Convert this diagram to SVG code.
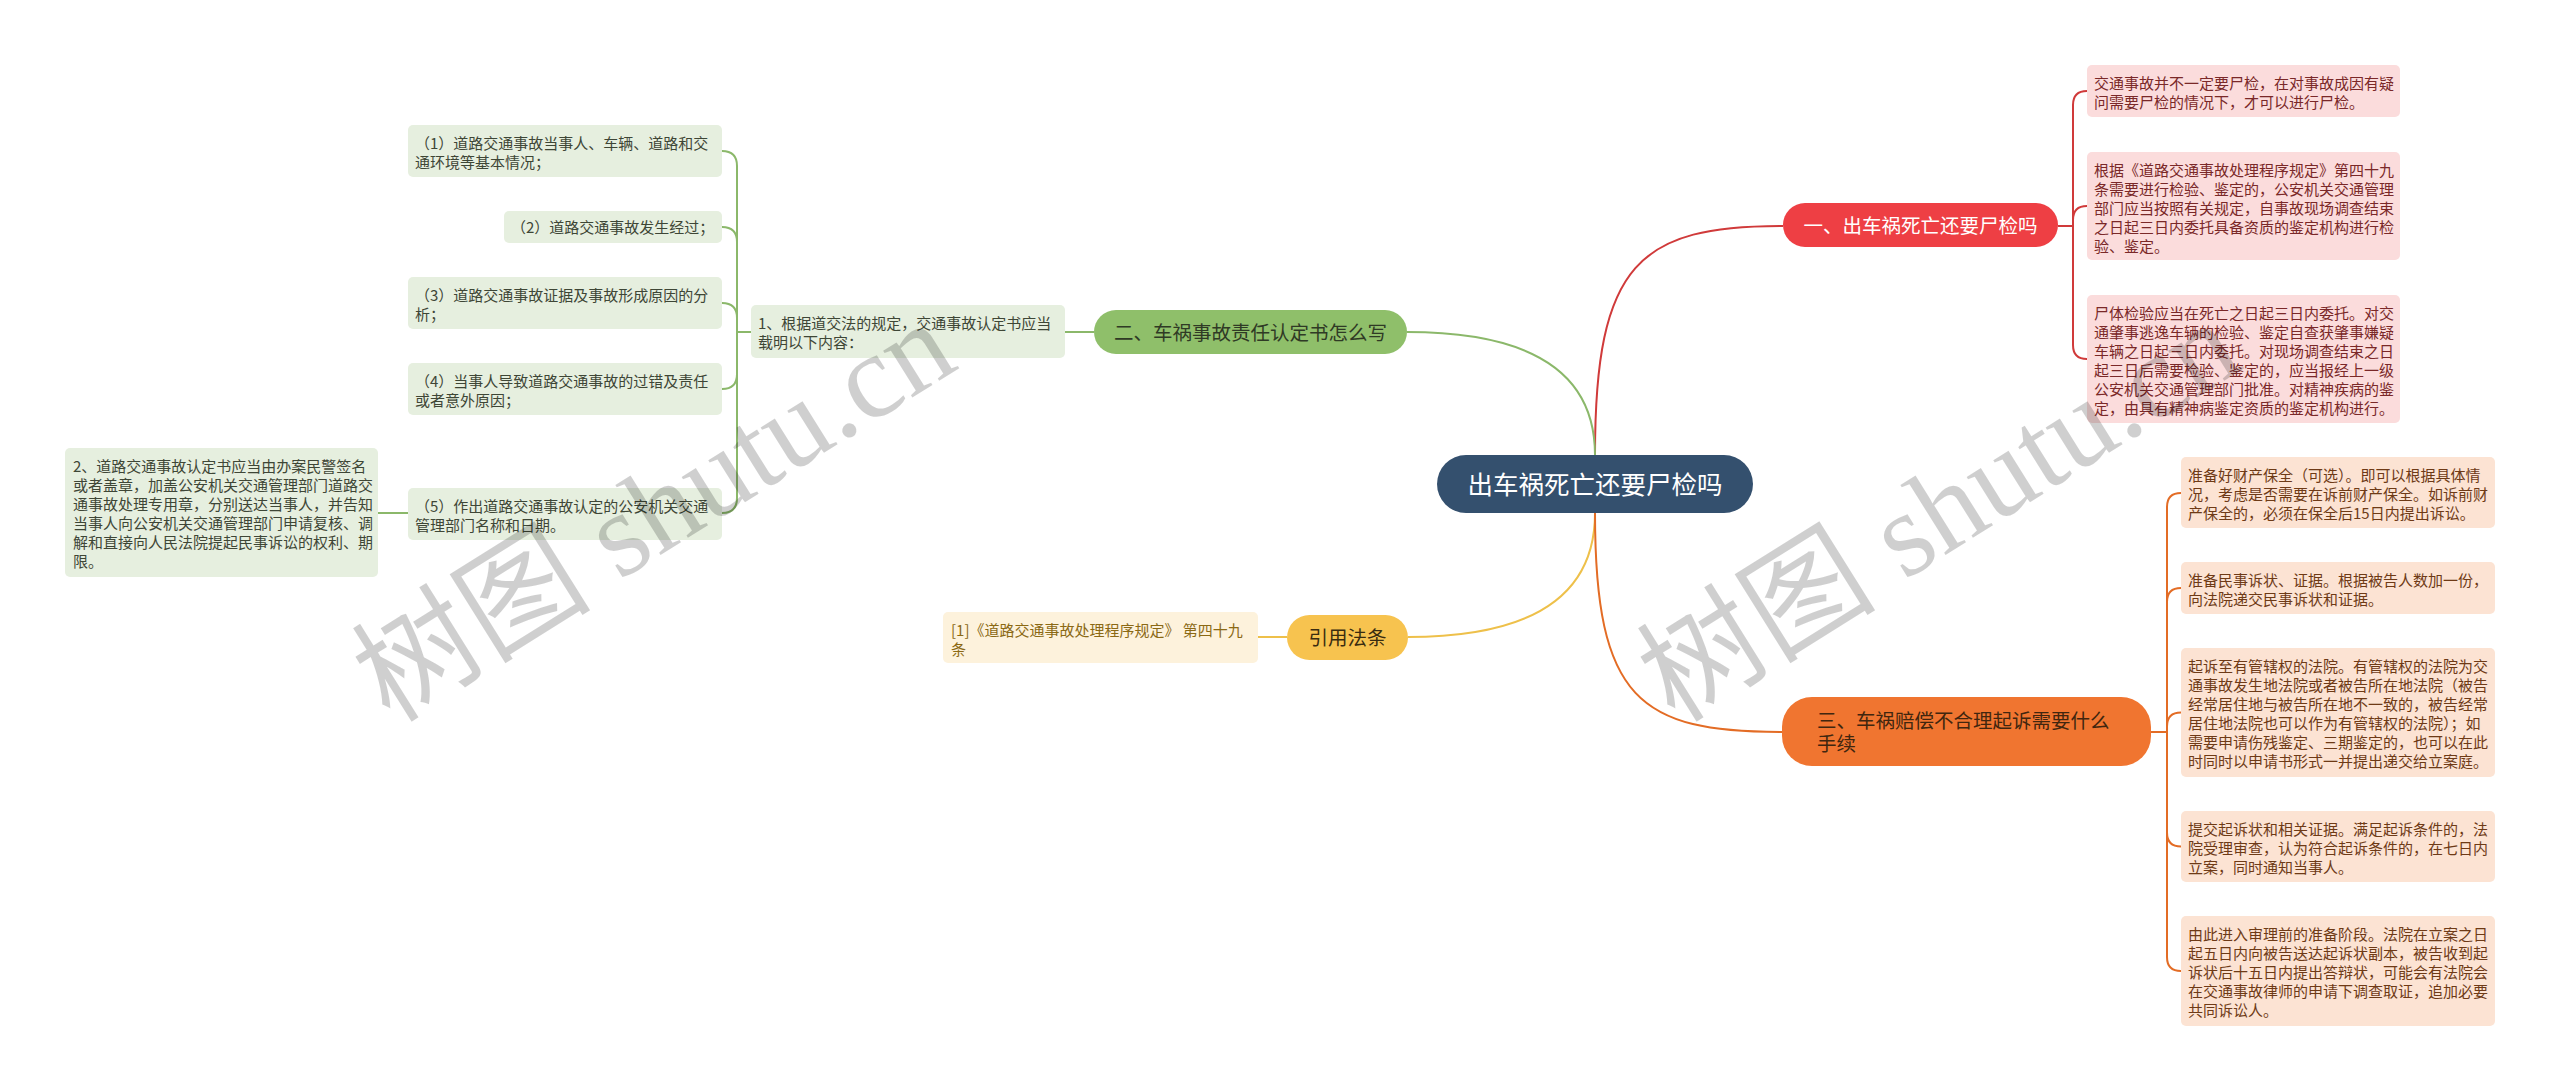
<svg xmlns="http://www.w3.org/2000/svg" width="2560" height="1091" viewBox="0 0 2560 1091">
<style>
text{font-family:'Noto Sans CJK SC','Noto Sans',sans-serif}
.t{font-size:15px}
.br{font-size:19.5px}
.red rect{fill:#fbdcdc}.red text{fill:#7a2828}
.org rect{fill:#fce3d3}.org text{fill:#6e3a16}
.grn rect{fill:#e6efdf}.grn text{fill:#3e4636}
.yel rect{fill:#fdf2dc}.yel text{fill:#8b6914}
.c{fill:none;stroke-width:2}
.cr{stroke:#d03a3a}.cg{stroke:#8bb86a}.cy{stroke:#eec04a}.co{stroke:#e36c25}
.wm{font-family:'Liberation Serif','Noto Sans CJK SC',serif;font-size:120px;fill:#000;fill-opacity:0.19}
</style>
<rect width="2560" height="1091" fill="#fff"/>
<g id="connectors">
<path class="c cr" stroke-width="2.5" d="M1595,455 C1595,262 1640,226 1783,226"/>
<path class="c cg" stroke-width="2.5" d="M1595,455 Q1595,332 1407,332"/>
<path class="c cy" stroke-width="2.5" d="M1595,513 Q1595,637 1408,637"/>
<path class="c co" stroke-width="2.5" d="M1595,513 C1595,700 1640,732 1782,732"/>
<path class="c cr" d="M2058,226 H2073 M2073,226 V105 Q2073,91 2087,91 M2073,226 V220 Q2073,206 2087,206 M2073,226 V345 Q2073,359 2087,359"/>
<path class="c co" d="M2151,732 H2167 M2167,732 V507 Q2167,493 2181,493 M2167,732 V602 Q2167,588 2181,588 M2167,732 V726.5 Q2167,712.5 2181,712.5 M2167,732 V832.5 Q2167,846.5 2181,846.5 M2167,732 V957 Q2167,971 2181,971"/>
<path class="c cg" d="M1065,332 H1094 M751,332 H737 M737,332 V166 Q737,151 722,151 M737,332 V242 Q737,227 722,227 M737,332 V318 Q737,303 722,303 M737,332 V374 Q737,389 722,389 M737,332 V498 Q737,513 722,513 M408,513 H378"/>
<path class="c cy" d="M1287,637 H1258"/>
</g>
<g id="root">
<rect x="1437" y="455" width="316" height="58" rx="29" fill="#34506e"/>
<text x="1595" y="493.5" font-size="25.5" fill="#fff" text-anchor="middle">出车祸死亡还要尸检吗</text>
</g>
<g id="b1">
<rect x="1783" y="203" width="275" height="44" rx="22" fill="#ee3f44"/>
<text class="br" x="1920.5" y="232.5" fill="#fff" text-anchor="middle">一、出车祸死亡还要尸检吗</text>
</g>
<g id="b2">
<rect x="1094" y="310" width="313" height="44" rx="22" fill="#8fbf6a"/>
<text class="br" x="1250.5" y="339.5" fill="#2f3a25" text-anchor="middle">二、车祸事故责任认定书怎么写</text>
</g>
<g id="b3">
<rect x="1782" y="697" width="369" height="69" rx="30" fill="#f07530"/>
<text class="br" fill="#40260f"><tspan x="1817" y="727.5">三、车祸赔偿不合理起诉需要什么</tspan><tspan x="1817" y="750.5">手续</tspan></text>
</g>
<g id="b4">
<rect x="1287" y="615" width="121" height="45" rx="22.5" fill="#f7c34f"/>
<text class="br" x="1347.5" y="645" fill="#3a2c10" text-anchor="middle">引用法条</text>
</g>
<g id="r1" class="red">
<rect x="2087" y="65" width="313" height="52" rx="5"/>
<text class="t"><tspan x="2094" y="88.5">交通事故并不一定要尸检，在对事故成因有疑</tspan><tspan x="2094" y="107.5">问需要尸检的情况下，才可以进行尸检。</tspan></text>
</g>
<g id="r2" class="red">
<rect x="2087" y="152" width="313" height="108" rx="5"/>
<text class="t"><tspan x="2094" y="175.5">根据《道路交通事故处理程序规定》第四十九</tspan><tspan x="2094" y="194.5">条需要进行检验、鉴定的，公安机关交通管理</tspan><tspan x="2094" y="213.5">部门应当按照有关规定，自事故现场调查结束</tspan><tspan x="2094" y="232.5">之日起三日内委托具备资质的鉴定机构进行检</tspan><tspan x="2094" y="251.5">验、鉴定。</tspan></text>
</g>
<g id="r3" class="red">
<rect x="2087" y="295" width="313" height="128" rx="5"/>
<text class="t"><tspan x="2094" y="318.5">尸体检验应当在死亡之日起三日内委托。对交</tspan><tspan x="2094" y="337.5">通肇事逃逸车辆的检验、鉴定自查获肇事嫌疑</tspan><tspan x="2094" y="356.5">车辆之日起三日内委托。对现场调查结束之日</tspan><tspan x="2094" y="375.5">起三日后需要检验、鉴定的，应当报经上一级</tspan><tspan x="2094" y="394.5">公安机关交通管理部门批准。对精神疾病的鉴</tspan><tspan x="2094" y="413.5">定，由具有精神病鉴定资质的鉴定机构进行。</tspan></text>
</g>
<g id="o1" class="org">
<rect x="2181" y="457" width="314" height="71" rx="5"/>
<text class="t"><tspan x="2188" y="480.5">准备好财产保全（可选）。即可以根据具体情</tspan><tspan x="2188" y="499.5">况，考虑是否需要在诉前财产保全。如诉前财</tspan><tspan x="2188" y="518.5">产保全的，必须在保全后15日内提出诉讼。</tspan></text>
</g>
<g id="o2" class="org">
<rect x="2181" y="562" width="314" height="52" rx="5"/>
<text class="t"><tspan x="2188" y="585.5">准备民事诉状、证据。根据被告人数加一份，</tspan><tspan x="2188" y="604.5">向法院递交民事诉状和证据。</tspan></text>
</g>
<g id="o3" class="org">
<rect x="2181" y="648" width="314" height="129" rx="5"/>
<text class="t"><tspan x="2188" y="671.5">起诉至有管辖权的法院。有管辖权的法院为交</tspan><tspan x="2188" y="690.5">通事故发生地法院或者被告所在地法院（被告</tspan><tspan x="2188" y="709.5">经常居住地与被告所在地不一致的，被告经常</tspan><tspan x="2188" y="728.5">居住地法院也可以作为有管辖权的法院）；如</tspan><tspan x="2188" y="747.5">需要申请伤残鉴定、三期鉴定的，也可以在此</tspan><tspan x="2188" y="766.5">时同时以申请书形式一并提出递交给立案庭。</tspan></text>
</g>
<g id="o4" class="org">
<rect x="2181" y="811" width="314" height="71" rx="5"/>
<text class="t"><tspan x="2188" y="834.5">提交起诉状和相关证据。满足起诉条件的，法</tspan><tspan x="2188" y="853.5">院受理审查，认为符合起诉条件的，在七日内</tspan><tspan x="2188" y="872.5">立案，同时通知当事人。</tspan></text>
</g>
<g id="o5" class="org">
<rect x="2181" y="916" width="314" height="110" rx="5"/>
<text class="t"><tspan x="2188" y="939.5">由此进入审理前的准备阶段。法院在立案之日</tspan><tspan x="2188" y="958.5">起五日内向被告送达起诉状副本，被告收到起</tspan><tspan x="2188" y="977.5">诉状后十五日内提出答辩状，可能会有法院会</tspan><tspan x="2188" y="996.5">在交通事故律师的申请下调查取证，追加必要</tspan><tspan x="2188" y="1015.5">共同诉讼人。</tspan></text>
</g>
<g id="g0" class="grn">
<rect x="751" y="305" width="314" height="53" rx="5"/>
<text class="t"><tspan x="758" y="328.5">1、根据道交法的规定，交通事故认定书应当</tspan><tspan x="758" y="347.5">载明以下内容：</tspan></text>
</g>
<g id="g1" class="grn">
<rect x="408" y="125" width="314" height="52" rx="5"/>
<text class="t"><tspan x="415" y="148.5">（1）道路交通事故当事人、车辆、道路和交</tspan><tspan x="415" y="167.5">通环境等基本情况；</tspan></text>
</g>
<g id="g2" class="grn">
<rect x="504" y="211" width="218" height="32" rx="5"/>
<text class="t" x="511" y="232.5">（2）道路交通事故发生经过；</text>
</g>
<g id="g3" class="grn">
<rect x="408" y="277" width="314" height="52" rx="5"/>
<text class="t"><tspan x="415" y="300.5">（3）道路交通事故证据及事故形成原因的分</tspan><tspan x="415" y="319.5">析；</tspan></text>
</g>
<g id="g4" class="grn">
<rect x="408" y="363" width="314" height="52" rx="5"/>
<text class="t"><tspan x="415" y="386.5">（4）当事人导致道路交通事故的过错及责任</tspan><tspan x="415" y="405.5">或者意外原因；</tspan></text>
</g>
<g id="g5" class="grn">
<rect x="408" y="488" width="314" height="52" rx="5"/>
<text class="t"><tspan x="415" y="511.5">（5）作出道路交通事故认定的公安机关交通</tspan><tspan x="415" y="530.5">管理部门名称和日期。</tspan></text>
</g>
<g id="g6" class="grn">
<rect x="65" y="448" width="313" height="129" rx="5"/>
<text class="t"><tspan x="73" y="471.5">2、道路交通事故认定书应当由办案民警签名</tspan><tspan x="73" y="490.5">或者盖章，加盖公安机关交通管理部门道路交</tspan><tspan x="73" y="509.5">通事故处理专用章，分别送达当事人，并告知</tspan><tspan x="73" y="528.5">当事人向公安机关交通管理部门申请复核、调</tspan><tspan x="73" y="547.5">解和直接向人民法院提起民事诉讼的权利、期</tspan><tspan x="73" y="566.5">限。</tspan></text>
</g>
<g id="y1" class="yel">
<rect x="943" y="612" width="315" height="51" rx="5"/>
<text class="t"><tspan x="951" y="635.5">[1]《道路交通事故处理程序规定》 第四十九</tspan><tspan x="951" y="654.5">条</tspan></text>
</g>
<g id="watermarks">
<text class="wm" transform="translate(390,724) rotate(-32)">树图 shutu.cn</text>
<text class="wm" transform="translate(1675,724) rotate(-32)">树图 shutu.cn</text>
</g>
</svg>
